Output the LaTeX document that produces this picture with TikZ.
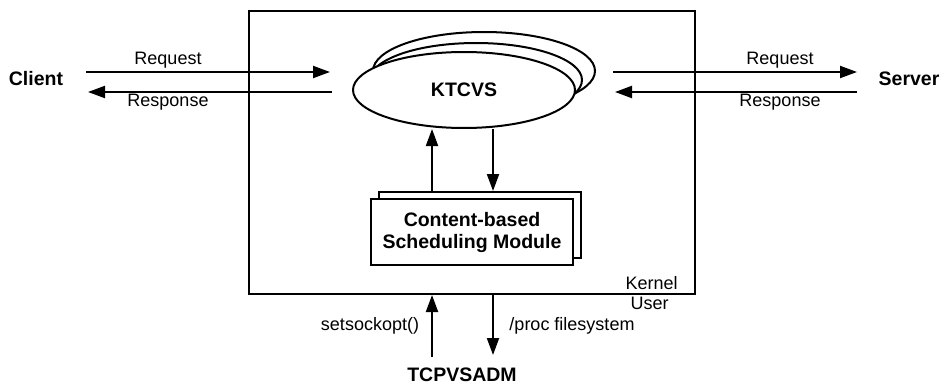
\documentclass[tikz,border=0pt]{standalone}
\usepackage{fontspec}
\setmainfont{Liberation Sans}
\usetikzlibrary{arrows.meta,shapes.geometric}

\begin{document}
\begin{tikzpicture}[x=1pt, y=-1pt, line width=2pt,
    every node/.style={font=\fontsize{18}{20}\selectfont},
    big/.style={font=\bfseries\fontsize{19.5}{22}\selectfont},
    arr/.style={-{Triangle[length=17pt,width=12pt]}},
    module/.style={draw, fill=white, minimum width=202pt, minimum height=66pt, align=center, big},
    proc/.style={draw, fill=white, ellipse, inner sep=0pt}]
    \useasboundingbox (0,0) rectangle (941,385);
    % kernel space
    \node [draw, minimum width=446pt, minimum height=283pt, inner sep=0pt] (kernel) at (472,152.5) {};
    \node [anchor=east] (kern) at (682,283) {Kernel};
    \node [anchor=east] (user) at (673,303) {User};
    % KTCVS with its copies
    \node [proc, minimum width=222pt, minimum height=78pt] (ktcvsc) at (484,71) {};
    \node [proc, minimum width=212pt, minimum height=74pt] (ktcvsb) at (476,80) {};
    \node [proc, minimum width=222pt, minimum height=76pt, big] (ktcvs) at (464,90) {KTCVS};
    % scheduling module
    \node [module] (cbsb) at (479.5,225) {};
    \node [module] (cbs) at (472,232) {Content-based\\Scheduling Module};
    \coordinate (up) at (432,0);
    \coordinate (dn) at (493,0);
    \draw [arr] (up |- cbsb.north) -- (up |- ktcvs.south);
    \draw [arr] (dn |- ktcvs.south) -- (dn |- cbsb.north);
    % client side
    \node [big] (client) at (36,79) {Client};
    \coordinate (cl1) at (86,72);
    \coordinate (cl2) at (330,72);
    \coordinate (cl3) at (332,92);
    \coordinate (cl4) at (88,92);
    \draw [arr] (cl1) -- (cl2);
    \draw [arr] (cl3) -- (cl4);
    \node (creq) at (168,60) {Request};
    \node (cres) at (168,102) {Response};
    % server side
    \node [big] (server) at (909,79) {Server};
    \coordinate (sv1) at (613,72);
    \coordinate (sv2) at (857,72);
    \coordinate (sv3) at (857,92);
    \coordinate (sv4) at (615,92);
    \draw [arr] (sv1) -- (sv2);
    \draw [arr] (sv3) -- (sv4);
    \node (sreq) at (780,60) {Request};
    \node (sres) at (780,102) {Response};
    % user space tool
    \node [big] (adm) at (462,375) {TCPVSADM};
    \coordinate (su) at (432,357);
    \coordinate (pd) at (493,355);
    \draw [arr] (su) -- (su |- kernel.south);
    \draw [arr] (pd |- kernel.south) -- (pd);
    \node (sock) at (370,326) {setsockopt()};
    \node (procfs) at (572,326) {/proc filesystem};
\end{tikzpicture}
\end{document}
